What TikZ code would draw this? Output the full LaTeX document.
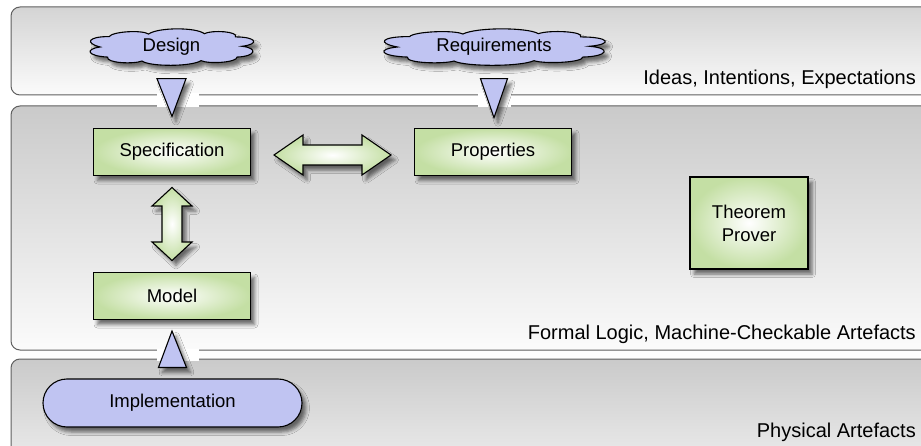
\documentclass[tikz,border=0pt]{standalone}
\usepackage{fontspec}
\setmainfont{Liberation Sans}
\usetikzlibrary{calc,shadows.blur,shapes.misc}

\definecolor{bandline}{RGB}{95,95,95}
\definecolor{bandtopA}{RGB}{212,212,212}
\definecolor{bandtopB}{RGB}{202,202,202}
\definecolor{bandbot}{RGB}{251,251,251}
\definecolor{lav}{RGB}{192,196,242}
\definecolor{leaf}{RGB}{196,223,164}

\newcommand{\boxfont}{\fontsize{18.5}{23}\selectfont}
\newcommand{\layerfont}{\fontsize{20}{24}\selectfont}

% cloud outline centred on a coordinate, with half width / half height
\newcommand{\cloudat}[3]{%
  \begin{scope}[shift={(#1)}, x=#2, y=#3]
    \draw[cloudline]
      (-0.87,0.0) .. controls (-1.06,0.22) and (-1.02,0.58) .. (-0.76,0.58)
      .. controls (-0.72,0.86) and (-0.36,0.96) .. (-0.28,0.72)
      .. controls (-0.16,1.1) and (0.3,1.1) .. (0.40,0.74)
      .. controls (0.50,0.96) and (0.82,0.86) .. (0.78,0.56)
      .. controls (1.04,0.56) and (1.08,0.16) .. (0.86,0.04)
      .. controls (1.06,-0.06) and (1.03,-0.52) .. (0.80,-0.56)
      .. controls (0.80,-0.86) and (0.46,-0.96) .. (0.36,-0.76)
      .. controls (0.24,-1.1) and (-0.26,-1.1) .. (-0.36,-0.78)
      .. controls (-0.46,-0.96) and (-0.80,-0.90) .. (-0.78,-0.56)
      .. controls (-1.03,-0.50) and (-1.06,-0.12) .. (-0.87,0.0) -- cycle;
  \end{scope}}

\tikzset{
  band/.style={draw=bandline, line width=1pt, rounded corners=9pt},
  shade/.style={blur shadow={shadow xshift=4pt, shadow yshift=-5pt,
      shadow blur radius=3.5pt, shadow opacity=55}},
  cloudline/.style={draw=black, line width=1.1pt, fill=lav, shade},
  stepbox/.style={draw=black, line width=1.1pt, inner color=white,
      outer color=leaf, minimum width=157pt, minimum height=47pt,
      inner sep=0pt, font=\boxfont, shade},
  textonly/.style={inner sep=0pt, font=\boxfont},
  tri/.style={draw=black, line width=1.1pt, fill=lav, line join=miter, shade},
  dbl/.style={draw=black, line width=1.1pt, inner color=white,
      outer color=leaf, line join=miter, shade},
  pill/.style={rounded rectangle, draw=black, line width=1.1pt, fill=lav,
      minimum width=259pt, minimum height=48pt, inner sep=0pt,
      font=\boxfont, shade},
  layer/.style={anchor=base east, inner sep=0pt, font=\layerfont},
  gap/.style={fill=white},
}

\begin{document}
\begin{tikzpicture}[x=1pt, y=-1pt]
  \useasboundingbox (0,0) rectangle (921,446);
  \clip (0,0) rectangle (921,446);

  % three layers
  \draw[band, top color=bandtopA, bottom color=bandbot] (11,7) rectangle (945,95);
  \draw[band, top color=bandtopB, bottom color=bandbot] (11,106) rectangle (945,350);
  \draw[band, top color=bandtopB, bottom color=bandbot!96!black] (11,359) rectangle (945,480);

  \node[layer] (l1) at (916,85) {Ideas, Intentions, Expectations};
  \node[layer] (l2) at (916,340) {Formal Logic, Machine-Checkable Artefacts};
  \node[layer] (l3) at (916,437) {Physical Artefacts};

  % ideas
  \coordinate (dc) at (171.5,47);
  \coordinate (rc) at (494,47);
  \cloudat{dc}{82pt}{18pt}
  \cloudat{rc}{111pt}{18pt}
  \node[textonly, minimum width=164pt, minimum height=36pt] (design) at (dc) {Design};
  \node[textonly, minimum width=222pt, minimum height=36pt] (req) at (rc) {Requirements};

  % formal artefacts
  \node[stepbox] (spec) at (172,152) {Specification};
  \node[stepbox] (prop) at (493,152) {Properties};
  \node[stepbox] (model) at (172,296) {Model};
  \node[stepbox, minimum width=118pt, minimum height=92pt, align=center] (tp) at (749,223) {Theorem\\Prover};

  % physical
  \node[pill] (impl) at (172.5,403) {Implementation};

  % breaks in the layer borders where the links cross
  \fill[gap] (157,93.5) rectangle (199,107.5);
  \fill[gap] (478,93.5) rectangle (511,107.5);
  \fill[gap] (157,348.5) rectangle (199,360.5);

  % refinement links
  \draw[tri] ($(design.south)+(-14.5,13.5)$) -- ($(design.south)+(14.5,13.5)$)
             -- ($(spec.north)+(0,-11.5)$) -- cycle;
  \draw[tri] ($(req.south)+(-13.5,13.5)$) -- ($(req.south)+(13.5,13.5)$)
             -- ($(req.south)+(0,52.5)$) -- cycle;
  \draw[tri] ($(impl.north)+(-14,-11)$) -- ($(impl.north)+(14,-11)$)
             -- ($(model.south)+(0,11)$) -- cycle;

  % two-way correspondences
  \coordinate (hm) at ($(spec.east)!.5!(prop.west)+(0,3)$);
  \draw[dbl] ([shift={(-58.5,0)}]hm) -- ([shift={(-29.5,-20)}]hm)
     -- ([shift={(-29.5,-10)}]hm) -- ([shift={(29.5,-10)}]hm)
     -- ([shift={(29.5,-20)}]hm) -- ([shift={(58.5,0)}]hm)
     -- ([shift={(29.5,20)}]hm) -- ([shift={(29.5,10)}]hm)
     -- ([shift={(-29.5,10)}]hm) -- ([shift={(-29.5,20)}]hm) -- cycle;
  \coordinate (vm) at ($(spec.south)!.5!(model.north)$);
  \draw[dbl] ([shift={(0,-36.5)}]vm) -- ([shift={(20,-18)}]vm)
     -- ([shift={(10,-18)}]vm) -- ([shift={(10,18)}]vm)
     -- ([shift={(20,18)}]vm) -- ([shift={(0,36.5)}]vm)
     -- ([shift={(-20,18)}]vm) -- ([shift={(-10,18)}]vm)
     -- ([shift={(-10,-18)}]vm) -- ([shift={(-20,-18)}]vm) -- cycle;
\end{tikzpicture}
\end{document}
